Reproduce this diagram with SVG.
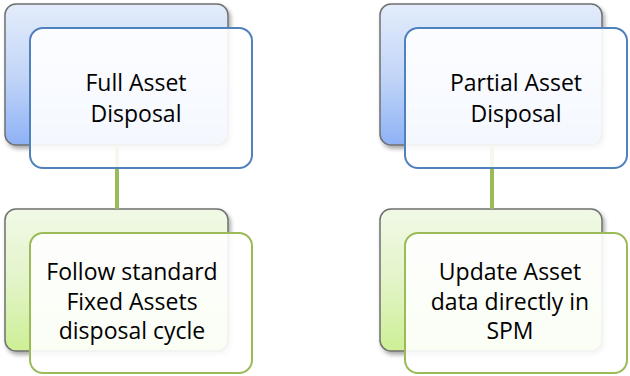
<svg xmlns="http://www.w3.org/2000/svg" width="630" height="376" viewBox="0 0 630 376">
<defs>
<linearGradient id="gBlue" x1="0" y1="0" x2="0" y2="1">
<stop offset="0" stop-color="#e3ecfb"/>
<stop offset="0.5" stop-color="#c3d6f8"/>
<stop offset="1" stop-color="#8eb2f6"/>
</linearGradient>
<linearGradient id="gGreen" x1="0" y1="0" x2="0" y2="1">
<stop offset="0" stop-color="#f1f9e6"/>
<stop offset="0.5" stop-color="#e3f4c9"/>
<stop offset="1" stop-color="#cdef95"/>
</linearGradient>
<filter id="sh" x="-10%" y="-10%" width="125%" height="130%">
<feDropShadow dx="2" dy="3" stdDeviation="2" flood-color="#000" flood-opacity="0.35"/>
</filter>
<style>
.back{stroke:#707070;stroke-width:1.5;filter:url(#sh)}
.fb{fill:#ffffff;fill-opacity:0.9;stroke:#4f81bd;stroke-width:2}
.fg{fill:#ffffff;fill-opacity:0.9;stroke:#9bbb59;stroke-width:2}
.t{font-family:"Open Sans","Liberation Sans",sans-serif;font-size:23px;fill:#000;text-anchor:middle}
.c{stroke:#9bbb59;stroke-width:4;fill:none}
</style>
</defs>
<rect x="5" y="4" width="223" height="141" rx="11" class="back" fill="url(#gBlue)"/>
<rect x="380" y="4" width="222" height="141" rx="11" class="back" fill="url(#gBlue)"/>
<rect x="5" y="209" width="223" height="142" rx="11" class="back" fill="url(#gGreen)"/>
<rect x="380" y="209" width="222" height="142" rx="11" class="back" fill="url(#gGreen)"/>
<g id="connectors">
<line x1="117" y1="145" x2="117" y2="209" class="c"/>
<line x1="492" y1="145" x2="492" y2="209" class="c"/>
</g>
<g id="full">
<rect x="30" y="28" width="222" height="140" rx="13" class="fb"/>
<text class="t" x="136" y="91">Full Asset</text>
<text class="t" x="136" y="122">Disposal</text>
</g>
<g id="partial">
<rect x="405" y="28" width="222" height="140" rx="13" class="fb"/>
<text class="t" x="516" y="91">Partial Asset</text>
<text class="t" x="516" y="122">Disposal</text>
</g>
<g id="follow">
<rect x="30" y="233" width="222" height="140" rx="13" class="fg"/>
<text class="t" x="132" y="280">Follow standard</text>
<text class="t" x="132" y="310">Fixed Assets</text>
<text class="t" x="132" y="339">disposal cycle</text>
</g>
<g id="update">
<rect x="405" y="233" width="222" height="140" rx="13" class="fg"/>
<text class="t" x="510" y="280">Update Asset</text>
<text class="t" x="510" y="310">data directly in</text>
<text class="t" x="510" y="339">SPM</text>
</g>
</svg>
